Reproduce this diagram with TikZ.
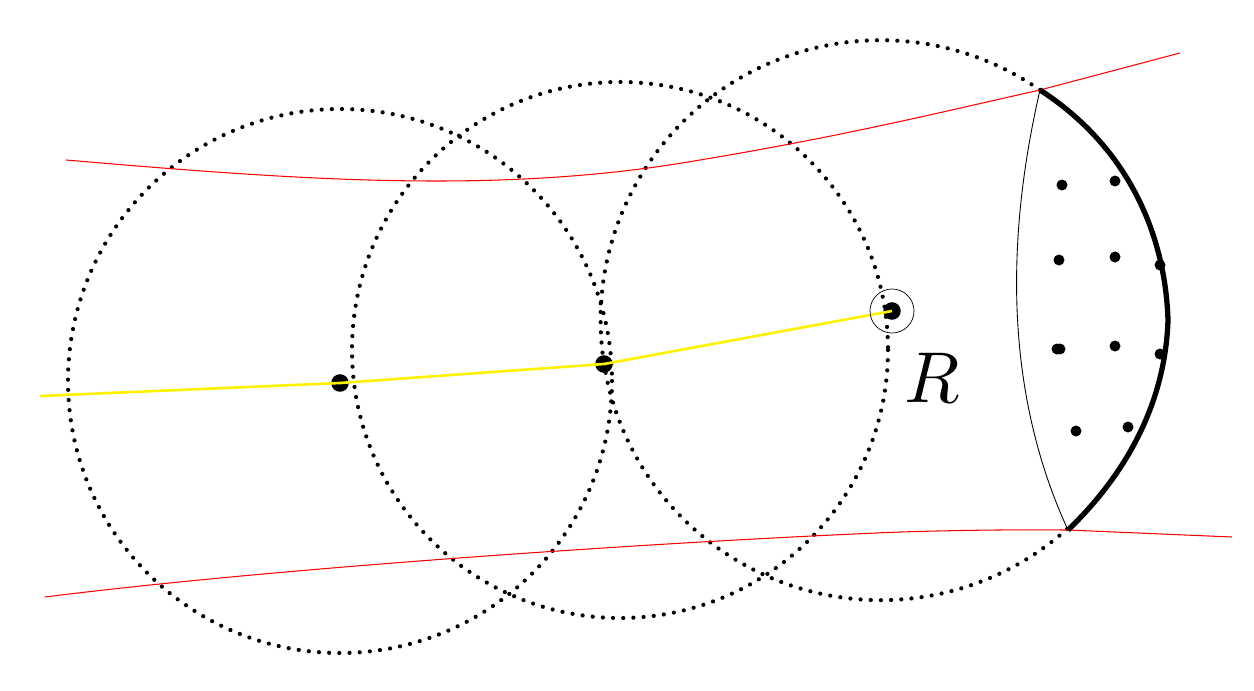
\documentclass[tikz,border=0pt]{standalone}
\begin{document}
\begin{tikzpicture}[x=0.02cm,y=-0.02cm,
  dotc/.style={line width=2.4pt,line cap=round, dash pattern=on 0pt off 5.8pt},
  redl/.style={red,line width=0.6pt},
  pt/.style={circle,fill=black,inner sep=0pt,minimum size=6pt}]
\useasboundingbox (0,0) rectangle (1254,690);
\coordinate (A) at (1040,90);
\coordinate (B) at (1068,530);
\draw[dotc] (340,381) circle (272);
\draw[dotc] (620,350) circle (268);
\draw[dotc] (A) arc[start angle=-55.3, end angle=-312, radius=280];
\draw[redl] (66,160) .. controls (300,180) and (500,195) .. (700,160) .. controls (850,135) and (950,110) .. (A) -- (1180,53);
\draw[redl] (45,597) .. controls (300,565) and (700,540) .. (900,532) .. controls (1000,529) and (1050,530) .. (B) -- (1232,537);
\node[pt,minimum size=10pt] (c1) at (340,383) {};
\node[pt,minimum size=10pt] (c2) at (604,364) {};
\node[pt,minimum size=10pt] (c3) at (892,311) {};
\coordinate (y0) at (40,396);
\draw[yellow,line width=1.5pt] (y0) -- (c1.center) -- (c2.center) -- (c3.center);
\draw (c3.center) circle (22);
\node[scale=4.1] (R) at (932,378) {$R$};
\draw[line width=0.5pt] (A) .. controls (1003,250) and (1008,400) .. (B);
\draw[line width=3pt] (A) .. controls (1125,145) and (1165,230) .. (1168,320) .. controls (1165,410) and (1120,480) .. (B);
\foreach \p in {(1062,185),(1115,181),(1059,260),(1115,257),(1160,265),(1057,349),(1060,349),(1115,346),(1160,354),(1076,431),(1128,427)}
  \fill \p circle (5.5);
\end{tikzpicture}
\end{document}
